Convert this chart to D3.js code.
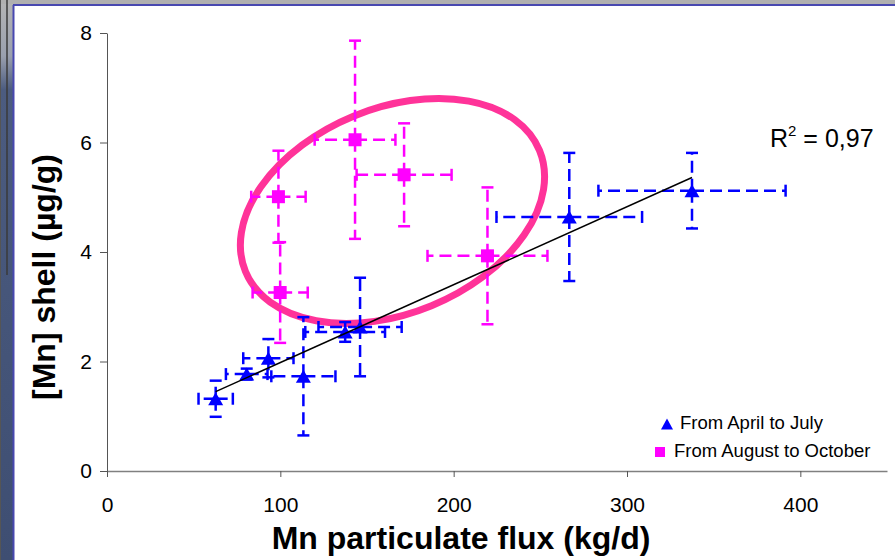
<!DOCTYPE html>
<html><head><meta charset="utf-8">
<script src="https://cdn.jsdelivr.net/npm/d3@7"></script>
<style>body{margin:0;background:#fff;} svg{display:block;font-family:"Liberation Sans",Arial,sans-serif;}</style>
</head><body><svg id="c" width="895" height="560"></svg>
<script>
// ---- data ----
const xTicks = [0, 100, 200, 300, 400];
const yTicks = [0, 2, 4, 6, 8];
const springX    = [62.7, 80.6, 93.1, 113.3, 137.4, 146.0, 266.7, 337.5];
const springY    = [1.32, 1.77, 2.06, 1.73, 2.54, 2.63, 4.64, 5.12];
const springXErr = [9.9, 12, 14.5, 18.5, 23, 24, 42, 54];
const springYErr = [0.33, 0.1, 0.35, 1.08, 0.18, 0.9, 1.17, 0.69];
const autumnX    = [98.9, 99.9, 143.1, 171.4, 219.5];
const autumnY    = [5.01, 3.26, 6.05, 5.41, 3.93];
const autumnXErr = [15.7, 15.9, 23.3, 27.4, 34.6];
const autumnYErr = [0.84, 0.92, 1.81, 0.94, 1.25];
const trendX = [62.7, 337.5];
const trendY = [1.45, 5.36];
const r2Value = "0,97";
const legendLabels = ["From April to July", "From August to October"];
const xTitle = "Mn particulate flux (kg/d)";
const yTitle = "[Mn] shell (µg/g)";
const ellipseCenter = [164.7, 4.75];

// ---- setup ----
const svg = d3.select("#c");
const x = d3.scaleLinear().domain([0, 450]).range([107, 887]);
const y = d3.scaleLinear().domain([0, 8]).range([471, 33]);
const BLUE = "#0000ff", MAG = "#ff00ff";

svg.append("rect").attr("width", 895).attr("height", 560).attr("fill", "#fff");

// frame (slide edges)
const defs = svg.append("defs");
const g1 = defs.append("linearGradient").attr("id", "lg").attr("x1", 0).attr("y1", 0).attr("x2", 0).attr("y2", 1);
g1.append("stop").attr("offset", "0").attr("stop-color", "#b5b5b5");
g1.append("stop").attr("offset", "0.1").attr("stop-color", "#9aa0ae");
g1.append("stop").attr("offset", "0.16").attr("stop-color", "#4c5c80");
g1.append("stop").attr("offset", "1").attr("stop-color", "#3e4e72");
svg.append("rect").attr("x", 0).attr("y", 0).attr("width", 13).attr("height", 560).attr("fill", "url(#lg)");
svg.append("rect").attr("x", 0).attr("y", 0).attr("width", 895).attr("height", 4).attr("fill", "#b0b0b0");
svg.append("line").attr("x1", 7).attr("x2", 7).attr("y1", 0).attr("y2", 275).attr("stroke", "#3a3a3a").attr("stroke-width", 1.5);
svg.append("line").attr("x1", 0.5).attr("x2", 0.5).attr("y1", 0).attr("y2", 560).attr("stroke", "#555").attr("stroke-width", 1);
svg.append("line").attr("x1", 13).attr("x2", 895).attr("y1", 5).attr("y2", 5).attr("stroke", "#4848b0").attr("stroke-width", 2);
svg.append("line").attr("x1", 13.5).attr("x2", 13.5).attr("y1", 5).attr("y2", 560).attr("stroke", "#4848b0").attr("stroke-width", 2);

// ellipse annotation (behind chart)
svg.append("ellipse")
  .attr("transform", `translate(${x(ellipseCenter[0])},${y(ellipseCenter[1])}) rotate(-22.4)`)
  .attr("rx", 159).attr("ry", 102.5)
  .attr("fill", "none").attr("stroke", "#ff3399").attr("stroke-width", 7);

// axes
const yAxis = svg.append("g").attr("transform", `translate(${x(0)},0)`)
  .call(d3.axisLeft(y).tickValues(yTicks).tickSize(7).tickSizeOuter(0).tickPadding(8));
const xAxis = svg.append("g").attr("transform", `translate(0,${y(0)})`)
  .call(d3.axisBottom(x).tickValues(xTicks).tickSize(6).tickSizeOuter(0).tickPadding(20));
[xAxis, yAxis].forEach(a => {
  a.selectAll("text").attr("font-size", 21).attr("fill", "#000").attr("font-family", "Liberation Sans, Arial, sans-serif");
});
yAxis.select(".domain").attr("stroke", "#555");
yAxis.selectAll(".tick line").attr("stroke", "#555");
xAxis.select(".domain").attr("stroke", "#808080").attr("stroke-width", 1.6);
xAxis.selectAll(".tick line").attr("stroke", "#555");

// titles
svg.append("text").attr("x", 461).attr("y", 549).attr("text-anchor", "middle")
  .attr("font-size", 32).attr("font-weight", "bold").text(xTitle);
svg.append("text").attr("transform", "translate(55,277) rotate(-90)").attr("text-anchor", "middle")
  .attr("font-size", 32).attr("font-weight", "bold").text(yTitle);

// error bars
function errorBars(xs, ys, xe, ye, color) {
  const g = svg.append("g").attr("stroke", color).attr("stroke-width", 2.5).attr("fill", "none");
  xs.forEach((xv, i) => {
    const cx = x(xv), cy = y(ys[i]);
    const xl = x(xv - xe[i]), xr = x(xv + xe[i]);
    const yt = y(ys[i] + ye[i]), yb = y(ys[i] - ye[i]);
    [[xl, cy], [xr, cy], [cx, yt], [cx, yb]].forEach(([ex, ey]) => {
      g.append("line").attr("x1", cx).attr("y1", cy).attr("x2", ex).attr("y2", ey).attr("stroke-dasharray", "12,6");
    });
    g.append("line").attr("x1", xl).attr("x2", xl).attr("y1", cy - 6).attr("y2", cy + 6);
    g.append("line").attr("x1", xr).attr("x2", xr).attr("y1", cy - 6).attr("y2", cy + 6);
    g.append("line").attr("x1", cx - 6).attr("x2", cx + 6).attr("y1", yt).attr("y2", yt);
    g.append("line").attr("x1", cx - 6).attr("x2", cx + 6).attr("y1", yb).attr("y2", yb);
  });
}
errorBars(springX, springY, springXErr, springYErr, BLUE);
errorBars(autumnX, autumnY, autumnXErr, autumnYErr, MAG);

// markers
const tri = (cx, cy, w, h) => `M${cx - w / 2},${cy + h / 2}L${cx + w / 2},${cy + h / 2}L${cx},${cy - h / 2}Z`;
svg.append("g").selectAll("path").data(springX).join("path")
  .attr("d", (d, i) => tri(x(d), y(springY[i]), 15, 13)).attr("fill", BLUE);
svg.append("g").selectAll("rect").data(autumnX).join("rect")
  .attr("x", d => x(d) - 6.5).attr("y", (d, i) => y(autumnY[i]) - 6.5)
  .attr("width", 13).attr("height", 13).attr("fill", MAG);

// trendline
svg.append("line").attr("x1", x(trendX[0])).attr("y1", y(trendY[0]))
  .attr("x2", x(trendX[1])).attr("y2", y(trendY[1])).attr("stroke", "#000").attr("stroke-width", 1.5);

// R2 label
const r2 = svg.append("text").attr("x", 770).attr("y", 147).attr("font-size", 25);
r2.append("tspan").text("R");
r2.append("tspan").attr("font-size", 15).attr("dy", -11).text("2");
r2.append("tspan").attr("dy", 11).text(" = " + r2Value);

// legend
svg.append("path").attr("d", tri(667, 424, 12, 11)).attr("fill", BLUE);
svg.append("text").attr("x", 680).attr("y", 429).attr("font-size", 18.5).text(legendLabels[0]);
svg.append("rect").attr("x", 655).attr("y", 447).attr("width", 10).attr("height", 10).attr("fill", MAG);
svg.append("text").attr("x", 674).attr("y", 457).attr("font-size", 18.5).text(legendLabels[1]);
</script></body></html>
